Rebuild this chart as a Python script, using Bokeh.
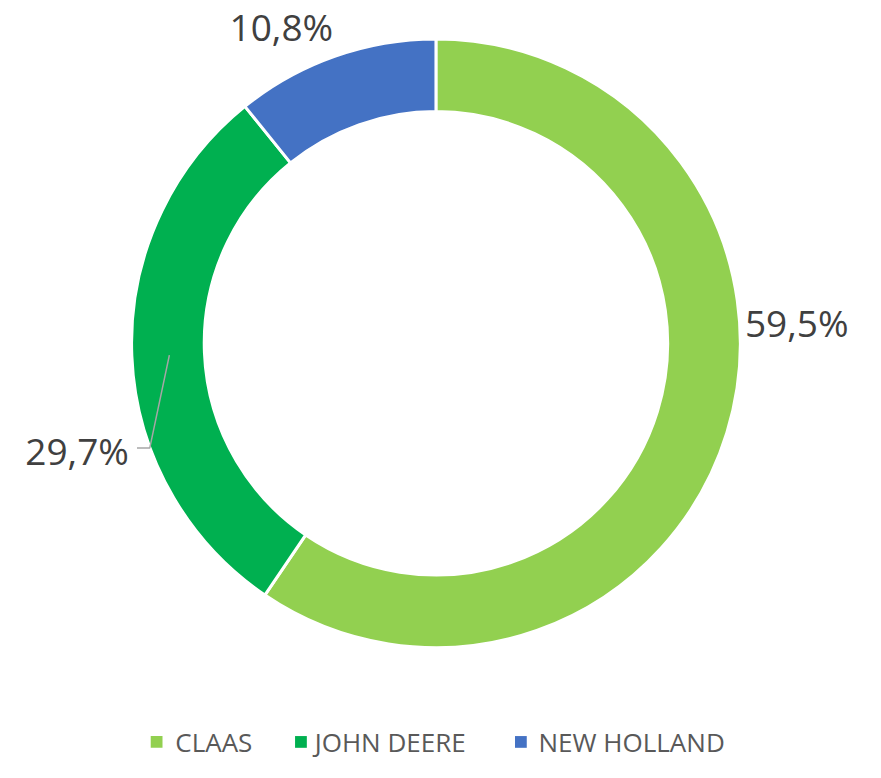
import math
from bokeh.plotting import figure
from bokeh.models import Range1d, ColumnDataSource
from bokeh.core.properties import value
from bokeh.embed import file_html
from bokeh.resources import INLINE

brands = ["CLAAS", "JOHN DEERE", "NEW HOLLAND"]
shares = [59.5, 29.7, 10.8]
labels = ["59,5%", "29,7%", "10,8%"]
colors = ["#92D050", "#00B050", "#4472C4"]

W, H = 865, 762
p = figure(width=W, height=H, output_backend="svg", toolbar_location=None,
           x_range=Range1d(0, 881), y_range=Range1d(-778, 0),
           min_border=0, outline_line_color=None)
p.axis.visible = False
p.grid.visible = False
p.background_fill_color = "white"

cx, cy = 443.5, -350
r_out, r_in = 310, 236
total = sum(shares)
starts, ends = [], []
cum = 0.0
for s in shares:
    starts.append(math.pi / 2 - cum / total * 2 * math.pi)
    cum += s
    ends.append(math.pi / 2 - cum / total * 2 * math.pi)

src = ColumnDataSource(dict(brand=brands, share=shares, start=starts, end=ends, color=colors))
p.annular_wedge(x=cx, y=cy, inner_radius=r_in, outer_radius=r_out,
                start_angle="start", end_angle="end", direction="clock",
                fill_color="color", line_color="white", line_width=3, source=src)

# data labels
lab_x = [811, 78, 286]
lab_y = [-329, -459, -27]
p.text(x=lab_x, y=lab_y, text=labels, text_align="center", text_baseline="middle",
       text_font=value("Open Sans"), text_font_size="37px", text_color="#404040")

# leader line for 29,7%
p.line(x=[139, 152, 172], y=[-457, -457, -362], line_color="#A6A6A6", line_width=1.5)

# legend
leg_sq_x = [159, 306, 530]
leg_tx_x = [178, 320, 548]
leg_y = -757
p.rect(x=leg_sq_x, y=[leg_y] * 3, width=12, height=12, fill_color=colors, line_color=None)
p.text(x=leg_tx_x, y=[leg_y] * 3, text=brands, text_align="left", text_baseline="middle",
       text_font=value("Open Sans"), text_font_size="26px", text_color="#595959")

open("out.html", "w").write(file_html(p, INLINE))
